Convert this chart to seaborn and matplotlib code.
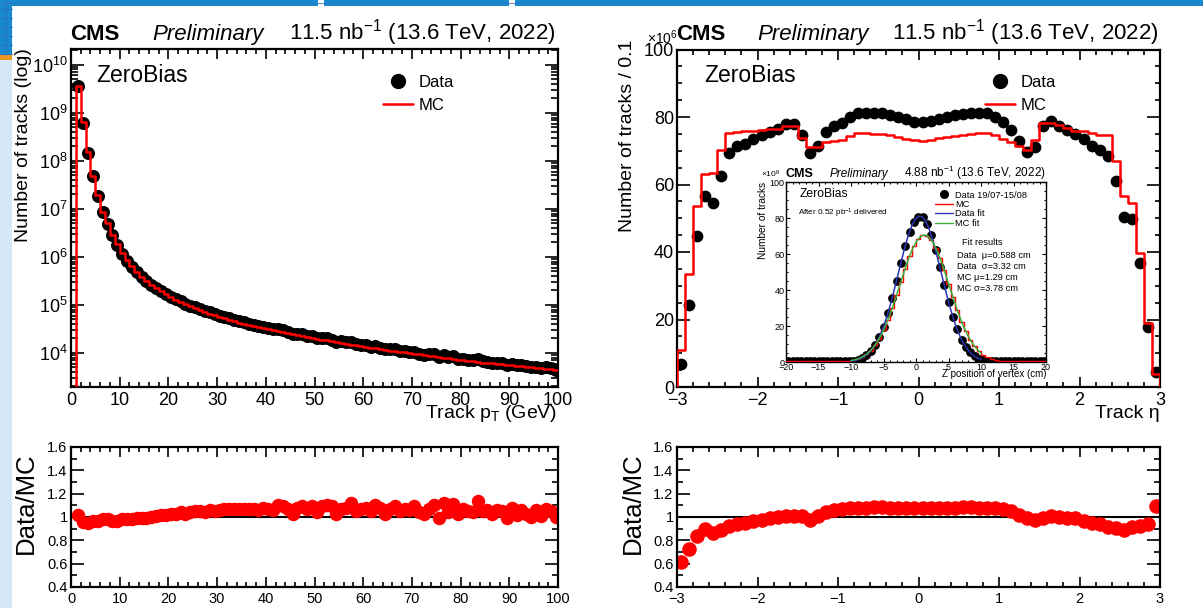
import numpy as np
import matplotlib
matplotlib.use("Agg")
import matplotlib.pyplot as plt
from matplotlib.lines import Line2D
from matplotlib.patches import Rectangle
from matplotlib.ticker import MultipleLocator, LogLocator, NullFormatter, FuncFormatter
import seaborn as sns

# ---------------- data ----------------
# Track pT: 1 GeV bins, bins [1,2] ... [99,100] (bin [0,1] empty)
pt_mc = [3.63e9, 6.31e8, 1.55e8, 4.90e7, 1.95e7, 8.71e6, 5.01e6, 2.88e6, 1.82e6, 1.20e6,
         8.51e5, 6.31e5, 4.90e5, 3.89e5, 3.16e5, 2.63e5, 2.24e5, 1.91e5, 1.66e5, 1.45e5,
         1.29e5, 1.15e5, 1.02e5, 9.33e4, 8.51e4, 7.76e4, 7.08e4, 6.61e4, 6.03e4, 5.62e4,
         5.25e4, 4.90e4, 4.57e4, 4.27e4, 4.07e4, 3.80e4, 3.63e4, 3.39e4, 3.24e4, 3.09e4,
         2.95e4, 2.82e4, 2.69e4, 2.57e4, 2.45e4, 2.34e4, 2.24e4, 2.14e4, 2.04e4, 1.95e4,
         1.86e4, 1.82e4, 1.74e4, 1.66e4, 1.62e4, 1.55e4, 1.48e4, 1.45e4, 1.38e4, 1.35e4,
         1.29e4, 1.26e4, 1.20e4, 1.17e4, 1.12e4, 1.10e4, 1.05e4, 1.02e4, 9.77e3, 9.55e3,
         9.33e3, 8.91e3, 8.71e3, 8.51e3, 8.13e3, 7.94e3, 7.76e3, 7.59e3, 7.24e3, 7.08e3,
         6.92e3, 6.76e3, 6.61e3, 6.31e3, 6.17e3, 6.03e3, 5.89e3, 5.75e3, 5.62e3, 5.50e3,
         5.37e3, 5.25e3, 5.13e3, 5.01e3, 4.90e3, 4.79e3, 4.68e3, 4.57e3, 4.47e3]
pt_ratio = [1.02, 0.96, 0.95, 0.97, 0.97, 0.98, 0.98, 0.97, 0.97, 0.98,
            0.98, 0.98, 0.99, 0.99, 0.99, 1.00, 1.01, 1.02, 1.02, 1.03,
            1.03, 1.04, 1.03, 1.04, 1.05, 1.05, 1.04, 1.06, 1.05, 1.06,
            1.07, 1.07, 1.07, 1.07, 1.07, 1.07, 1.07, 1.06, 1.08, 1.07,
            1.06, 1.10, 1.09, 1.07, 1.03, 1.08, 1.09, 1.07, 1.09, 1.04,
            1.09, 1.10, 1.09, 1.03, 1.07, 1.08, 1.12, 1.05, 1.07, 1.08,
            1.05, 1.10, 1.08, 1.03, 1.07, 1.09, 1.05, 1.07, 1.06, 1.09,
            1.04, 1.03, 1.07, 1.10, 0.99, 1.12, 1.04, 1.11, 1.03, 1.07,
            1.05, 1.04, 1.14, 1.05, 1.06, 1.03, 1.06, 1.05, 0.99, 1.08,
            1.02, 1.06, 1.03, 1.00, 1.06, 1.01, 1.07, 1.05, 1.00]
pt_first_edge, pt_last_edge = 1, 100

# Track eta: 0.1 bins from -3 to 3, units of 1e6 tracks
eta_mc = [11.0, 33.5, 53.6, 63.2, 63.4, 70.3, 75.3, 75.6, 75.8, 76.0,
          76.2, 76.3, 76.5, 77.2, 77.3, 73.7, 71.0, 71.0, 72.7, 73.0,
          73.3, 74.3, 75.4, 75.3, 75.0, 74.9, 74.6, 74.2, 73.6, 73.1,
          72.9, 73.2, 73.7, 74.1, 74.5, 74.8, 75.1, 75.3, 75.2, 74.6,
          73.6, 72.5, 71.5, 70.2, 73.3, 78.1, 78.1, 77.6, 76.6, 76.0,
          75.8, 75.2, 74.8, 74.6, 67.0, 56.6, 54.4, 39.7, 18.9, 4.0]
eta_ratio = [0.615, 0.724, 0.836, 0.897, 0.862, 0.888, 0.920, 0.943, 0.950, 0.966,
             0.978, 0.992, 1.000, 1.008, 1.010, 1.012, 0.976, 1.005, 1.040, 1.058,
             1.068, 1.076, 1.077, 1.080, 1.082, 1.082, 1.080, 1.080, 1.078, 1.076,
             1.076, 1.077, 1.078, 1.080, 1.081, 1.082, 1.082, 1.080, 1.078, 1.074,
             1.066, 1.052, 1.018, 0.990, 0.972, 0.990, 1.008, 0.997, 0.994, 0.988,
             0.968, 0.950, 0.937, 0.917, 0.910, 0.888, 0.917, 0.925, 0.940, 1.090]

# Inset: vertex z, 60 bins from -20 to 20 cm, units of 1e6
vtx_data = [0.4, 0.4, 0.4, 0.4, 0.4, 0.4, 0.4, 0.4, 0.4, 0.4, 0.4, 0.4, 0.4,
            0.45, 0.5, 0.69, 1.25, 2.19, 3.68, 5.95, 9.22, 13.7, 19.7, 27.0, 35.6,
            45.2, 55.0, 64.3, 72.2, 77.9, 80.8, 80.4, 76.8, 70.6, 62.2, 52.7, 42.9,
            33.5, 25.1, 18.1, 12.5, 8.34, 5.33, 3.27, 1.93, 1.09, 0.59, 0.45,
            0.4, 0.4, 0.4, 0.4, 0.4, 0.4, 0.4, 0.4, 0.4, 0.4, 0.4, 0.4]
vtx_mc = [0.6, 0.6, 0.6, 0.6, 0.6, 0.6, 0.6, 0.6, 0.6, 0.6, 0.6, 0.6,
          0.6, 0.6, 0.7, 1.05, 1.73, 2.76, 4.25, 6.37, 9.22, 13.0, 17.7, 23.3, 29.9,
          37.0, 44.5, 51.9, 58.7, 64.3, 68.3, 70.3, 70.1, 67.9, 63.6, 57.9, 51.0,
          43.5, 36.1, 29.0, 22.5, 17.0, 12.4, 8.80, 6.06, 4.03, 2.60, 1.63, 0.99, 0.7,
          0.6, 0.6, 0.6, 0.6, 0.6, 0.6, 0.6, 0.6, 0.6, 0.6]
fit_data = dict(mu=0.588, sigma=3.32, peak=81.0)
fit_mc = dict(mu=1.29, sigma=3.78, peak=70.5)
fit_range = (-10, 10)

# ---------------- style ----------------
sns.set_theme(style="ticks")
plt.rcParams['font.family'] = ['Liberation Sans', 'DejaVu Sans']
plt.rcParams.update({
    'mathtext.fontset': 'custom',
    'mathtext.rm': 'Liberation Sans',
    'mathtext.it': 'Liberation Sans:italic',
    'mathtext.bf': 'Liberation Sans:bold',
    'text.color': 'black', 'axes.edgecolor': 'black', 'axes.labelcolor': 'black',
    'xtick.color': 'black', 'ytick.color': 'black',
})

W, H = 1203, 608
fig = plt.figure(figsize=(W / 100, H / 100), dpi=100)
fig.patch.set_facecolor('white')


def px_axes(l, t, r, b, **kw):
    return fig.add_axes([l / W, 1 - b / H, (r - l) / W, (b - t) / H], **kw)


def ftext(x, y, s, **kw):
    kw.setdefault('va', 'baseline')
    return fig.text(x / W, 1 - y / H, s, **kw)


def frame(ax, xmaj, xmin, ymaj, ymin, lsize, lw=1.6, tw=1.2, padx=3.5, pady=2.5):
    for sp in ax.spines.values():
        sp.set_visible(True)
        sp.set_linewidth(lw)
        sp.set_color('black')
    ax.tick_params(axis='x', which='major', direction='in', length=xmaj, width=tw,
                   top=True, bottom=True, labelsize=lsize, pad=padx)
    ax.tick_params(axis='x', which='minor', direction='in', length=xmin, width=tw,
                   top=True, bottom=True)
    ax.tick_params(axis='y', which='major', direction='in', length=ymaj, width=tw,
                   left=True, right=True, labelsize=lsize, pad=pady)
    ax.tick_params(axis='y', which='minor', direction='in', length=ymin, width=tw,
                   left=True, right=True)
    ax.set_xlabel('')
    ax.set_ylabel('')
    ax.grid(False)


# ---------------- slide decoration ----------------
blue = '#1689d1'
gridc = '#2f74bd'
fig.add_artist(Rectangle((0, 1 - 6 / H), 1, 6 / H, transform=fig.transFigure,
                         facecolor=blue, edgecolor='none', zorder=-5))
for gx in (318, 509):
    fig.add_artist(Rectangle((gx / W, 1 - 6 / H), 6 / W, 6 / H, transform=fig.transFigure,
                             facecolor='white', edgecolor='none', zorder=-4))
fig.add_artist(Rectangle((0, 1 - 55 / H), 12 / W, 55 / H, transform=fig.transFigure,
                         facecolor=blue, edgecolor='none', zorder=-5))
fig.add_artist(Rectangle((0, 1 - 60 / H), 12 / W, 5 / H, transform=fig.transFigure,
                         facecolor='#f0951e', edgecolor='none', zorder=-5))
fig.add_artist(Rectangle((0, 0), 12 / W, 1 - 60 / H, transform=fig.transFigure,
                         facecolor='#d4e8f6', edgecolor='none', zorder=-5))
for gy in range(9, 55, 9):
    fig.add_artist(Line2D([0, 12 / W], [1 - gy / H] * 2, transform=fig.transFigure,
                          color=gridc, lw=0.7, zorder=-3))
fig.add_artist(Line2D([0, 1], [1 - 3 / H] * 2, transform=fig.transFigure,
                      color=gridc, lw=0.6, zorder=-3))
fig.add_artist(Line2D([6 / W] * 2, [1 - 55 / H, 1], transform=fig.transFigure,
                      color=gridc, lw=0.7, zorder=-3))

# ---------------- derived binning ----------------
pt_lo = np.arange(pt_first_edge, pt_last_edge)
pt_center = pt_lo + 0.5
pt_mc_a = np.array(pt_mc)
pt_data = pt_mc_a * np.array(pt_ratio)

eta_edges = np.round(np.linspace(-3, 3, len(eta_mc) + 1), 2)
eta_center = 0.5 * (eta_edges[:-1] + eta_edges[1:])
eta_mc_a = np.array(eta_mc)
eta_data = eta_mc_a * np.array(eta_ratio)

vtx_edges = np.linspace(-20, 20, len(vtx_mc) + 1)
vtx_center = 0.5 * (vtx_edges[:-1] + vtx_edges[1:])

# ---------------- left: pT ----------------
ax1 = px_axes(71, 49, 558, 387)
ylo, yhi = 10 ** 3.29, 10 ** 10.33
sns.scatterplot(x=pt_center, y=pt_data, ax=ax1, color='black', s=88, linewidth=0,
                zorder=2, legend=False)
step_x = np.concatenate([[pt_lo[0]], pt_lo, [pt_last_edge]])
step_y = np.concatenate([[ylo * 0.1], pt_mc_a, [pt_mc_a[-1]]])
sns.lineplot(x=step_x, y=step_y, ax=ax1, color='red', lw=1.8, drawstyle='steps-post',
             estimator=None, sort=False, zorder=3, legend=False)
ax1.set_yscale('log')
ax1.set_xlim(0, 100)
ax1.set_ylim(ylo, yhi)
ax1.xaxis.set_major_locator(MultipleLocator(10))
ax1.xaxis.set_minor_locator(MultipleLocator(2))
ax1.yaxis.set_major_locator(LogLocator(base=10, numticks=20))
ax1.yaxis.set_minor_locator(LogLocator(base=10, subs=np.arange(2, 10), numticks=100))
ax1.yaxis.set_minor_formatter(NullFormatter())
frame(ax1, 7, 3.6, 9.4, 4.8, 13)

ax1r = px_axes(71, 447, 558, 587)
ax1r.axhline(1.0, color='black', lw=1.5, zorder=1)
sns.scatterplot(x=pt_center, y=pt_ratio, ax=ax1r, color='red', s=94, linewidth=0,
                zorder=2, legend=False)
ax1r.set_xlim(0, 100)
ax1r.set_ylim(0.4, 1.6)
ax1r.xaxis.set_major_locator(MultipleLocator(10))
ax1r.xaxis.set_minor_locator(MultipleLocator(2))
ax1r.yaxis.set_major_locator(MultipleLocator(0.2))
ax1r.yaxis.set_minor_locator(MultipleLocator(0.1))
ax1r.yaxis.set_major_formatter(FuncFormatter(lambda v, p: f'{v:g}'))
frame(ax1r, 7, 3.6, 9.4, 4.5, 10.5)

# ---------------- right: eta ----------------
ax2 = px_axes(677, 49.5, 1160, 387)
sns.scatterplot(x=eta_center, y=eta_data, ax=ax2, color='black', s=72, linewidth=0,
                zorder=2, legend=False)
ex = np.concatenate([[eta_edges[0]], eta_edges, [eta_edges[-1]]])
ey = np.concatenate([[0], eta_mc_a, [eta_mc_a[-1]], [0]])
sns.lineplot(x=ex, y=ey, ax=ax2, color='red', lw=1.8, drawstyle='steps-post',
             estimator=None, sort=False, zorder=3, legend=False)
ax2.set_xlim(-3, 3)
ax2.set_ylim(0, 100)
ax2.xaxis.set_major_locator(MultipleLocator(1))
ax2.xaxis.set_minor_locator(MultipleLocator(0.2))
ax2.yaxis.set_major_locator(MultipleLocator(20))
ax2.yaxis.set_minor_locator(MultipleLocator(5))
frame(ax2, 7, 3.6, 9.4, 3.8, 13, pady=2)

ax2r = px_axes(677, 447, 1160, 587)
ax2r.axhline(1.0, color='black', lw=1.5, zorder=1)
sns.scatterplot(x=eta_center, y=eta_ratio, ax=ax2r, color='red', s=110, linewidth=0,
                zorder=2, legend=False)
ax2r.set_xlim(-3, 3)
ax2r.set_ylim(0.4, 1.6)
ax2r.xaxis.set_major_locator(MultipleLocator(1))
ax2r.xaxis.set_minor_locator(MultipleLocator(0.2))
ax2r.yaxis.set_major_locator(MultipleLocator(0.2))
ax2r.yaxis.set_minor_locator(MultipleLocator(0.1))
ax2r.yaxis.set_major_formatter(FuncFormatter(lambda v, p: f'{v:g}'))
frame(ax2r, 7, 3.6, 9.4, 4.5, 10.5)

# ---------------- inset ----------------
axin = px_axes(786, 182, 1046, 362)
axin.set_facecolor('white')
sns.scatterplot(x=vtx_center, y=vtx_data, ax=axin, color='black', s=40, linewidth=0,
                zorder=2, legend=False)
vx = np.concatenate([vtx_edges, [vtx_edges[-1]]])
vy = np.concatenate([vtx_mc, [vtx_mc[-1]], [0]])
sns.lineplot(x=vx, y=vy, ax=axin, color='red', lw=1.0, drawstyle='steps-post',
             estimator=None, sort=False, zorder=3, legend=False)
zgrid = np.linspace(fit_range[0], fit_range[1], 201)
for fit, col in ((fit_data, '#2a35b8'), (fit_mc, '#3cb03c')):
    curve = fit['peak'] * np.exp(-0.5 * ((zgrid - fit['mu']) / fit['sigma']) ** 2)
    sns.lineplot(x=zgrid, y=curve, ax=axin, color=col, lw=1.1, estimator=None,
                 sort=False, zorder=4, legend=False)
axin.set_xlim(-20, 20)
axin.set_ylim(0, 100)
axin.xaxis.set_major_locator(MultipleLocator(5))
axin.xaxis.set_minor_locator(MultipleLocator(1))
axin.yaxis.set_major_locator(MultipleLocator(20))
axin.yaxis.set_minor_locator(MultipleLocator(5))
frame(axin, 3.2, 1.6, 3.2, 1.6, 6.5, lw=1.0, tw=0.8, padx=1, pady=1)

# ---------------- legends ----------------
h_data = Line2D([], [], ls='none', marker='o', color='black', ms=10)
h_mc = Line2D([], [], color='red', lw=1.8)
for ax, x0 in ((ax1, 383), (ax2, 985)):
    ax.legend(handles=[h_data, h_mc], labels=['Data', 'MC'], loc='upper left',
              bbox_to_anchor=(x0 / W, 1 - 75 / H), bbox_transform=fig.transFigure,
              frameon=False, fontsize=12, handlelength=1.8, handletextpad=0.35,
              labelspacing=0.5, borderpad=0, borderaxespad=0)
axin.legend(handles=[Line2D([], [], ls='none', marker='o', color='black', ms=5.5),
                     Line2D([], [], color='red', lw=1.0),
                     Line2D([], [], color='#2a35b8', lw=1.0),
                     Line2D([], [], color='#3cb03c', lw=1.0)],
            labels=['Data 19/07-15/08', 'MC', 'Data fit', 'MC fit'],
            loc='upper left', bbox_to_anchor=(935 / W, 1 - 190.5 / H),
            bbox_transform=fig.transFigure, frameon=False, fontsize=6.7,
            handlelength=1.9, handletextpad=0.25, labelspacing=0.05, borderpad=0,
            borderaxespad=0)

# ---------------- texts ----------------
for x_cms, x_pre, x_right in ((70, 152, 556), (676, 757, 1159)):
    ftext(x_cms, 40, 'CMS', fontsize=16, fontweight='bold')
    ftext(x_pre, 40, 'Preliminary', fontsize=16, style='italic')
    ftext(x_right, 40, '11.5 nb$^{-1}$ (13.6 TeV, 2022)', fontsize=16, ha='right')
ftext(96, 82, 'ZeroBias', fontsize=16.5)
ftext(704, 82, 'ZeroBias', fontsize=16.5)

ftext(24, 48, 'Number of tracks (log)', rotation=90, ha='center', va='top', fontsize=14)
ftext(628, 40, 'Number of tracks / 0.1', rotation=90, ha='center', va='top', fontsize=14)
ftext(662, 44, r'$\times10^{6}$', ha='center', fontsize=10)
ftext(557, 418, r'Track p$_{\mathrm{T}}$ (GeV)', ha='right', fontsize=14)
ftext(1160, 418, 'Track η', ha='right', fontsize=14)
ftext(26, 452, 'Data/MC', rotation=90, ha='center', va='top', fontsize=18.5)
ftext(633, 452, 'Data/MC', rotation=90, ha='center', va='top', fontsize=18.5)

# inset texts
ftext(785, 177, 'CMS', fontsize=9, fontweight='bold')
ftext(830, 177, 'Preliminary', fontsize=8.5, style='italic')
ftext(1046, 177, '4.88 nb$^{-1}$ (13.6 TeV, 2022)', fontsize=8.5, ha='right')
ftext(771, 177, r'$\times10^{6}$', fontsize=6, ha='center')
ftext(763, 182, 'Number of tracks', rotation=90, ha='center', va='top', fontsize=7.3)
ftext(1046, 377, 'Z position of vertex (cm)', ha='right', fontsize=7)
ftext(800, 197, 'ZeroBias', fontsize=8.7)
ftext(798, 216, 'After 0.52 pb$^{-1}$ delivered', fontsize=5.9)
ftext(982, 245, 'Fit results', ha='center', fontsize=6.7)
fit_lines = [f"Data  μ={fit_data['mu']} cm", f"Data  σ={fit_data['sigma']} cm",
             f"MC μ={fit_mc['mu']} cm", f"MC σ={fit_mc['sigma']} cm"]
for i, s in enumerate(fit_lines):
    ftext(957, 257.5 + 11.2 * i, s, fontsize=6.7)

fig.savefig('out.png', dpi=100)
